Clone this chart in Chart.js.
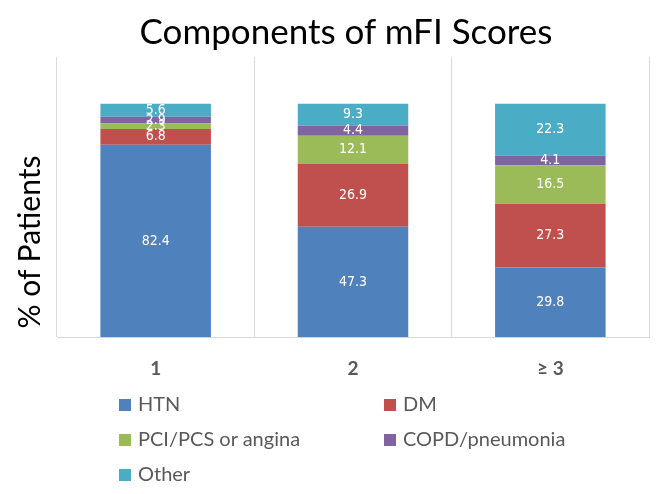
<!DOCTYPE html>
<html>
<head>
<meta charset="utf-8">
<script src="https://cdn.jsdelivr.net/npm/chart.js@4"></script>
<style>
  html, body { margin: 0; padding: 0; background: #fff; }
  #wrap { position: relative; width: 663px; height: 494px; }
  #title { position: absolute; left: 46px; width: 600px; top: 8px; text-align: center;
    font-family: 'Lato', 'Open Sans', sans-serif; font-size: 35px; color: #000; line-height: 44px; }
  #ytitle { position: absolute; left: 28px; top: 242px; width: 300px; height: 36px; line-height: 36px;
    margin-left: -150px; margin-top: -18px; text-align: center; transform: rotate(-90deg);
    font-family: 'Lato', 'Open Sans', sans-serif; font-size: 30px; color: #000; white-space: nowrap; }
  #legend { position: absolute; left: 119px; top: 391px; width: 520px;
    font-family: 'Lato', 'Open Sans', sans-serif; font-size: 20px; color: #595959; }
  .item { position: absolute; white-space: nowrap; }
  .box { display: inline-block; width: 12px; height: 12px; margin-right: 7px; vertical-align: 0px; }
</style>
</head>
<body>
<div id="wrap">
  <canvas id="chart" width="663" height="494"></canvas>
  <div id="title">Components of mFI Scores</div>
  <div id="ytitle">% of Patients</div>
  <div id="legend"></div>
</div>
<script>
// categories and series (% of patients)
const categories = ['1', '2', '\u2265 3'];
const seriesNames = ['HTN', 'DM', 'PCI/PCS or angina', 'COPD/pneumonia', 'Other'];
const htn = [82.4, 47.3, 29.8];
const dm = [6.8, 26.9, 27.3];
const pci = [2.3, 12.1, 16.5];
const copd = [2.9, 4.4, 4.1];
const other = [5.6, 9.3, 22.3];
const colors = ['#4F81BD', '#C0504D', '#9BBB59', '#8064A2', '#4BACC6'];

const values = [htn, dm, pci, copd, other];

// simple value labels in the middle of each segment
const barLabels = {
  id: 'barLabels',
  afterDatasetsDraw(chart) {
    const ctx = chart.ctx;
    ctx.save();
    ctx.fillStyle = '#fff';
    ctx.font = "14px 'Liberation Sans Narrow', 'DejaVu Sans Condensed', sans-serif";
    ctx.textAlign = 'center';
    ctx.textBaseline = 'middle';
    chart.data.datasets.forEach((ds, i) => {
      chart.getDatasetMeta(i).data.forEach((bar, j) => {
        const y = (bar.y + bar.base) / 2;
        ctx.fillText(ds.data[j].toFixed(1), bar.x, y);
      });
    });
    ctx.restore();
  }
};

new Chart(document.getElementById('chart'), {
  type: 'bar',
  data: {
    labels: categories,
    datasets: seriesNames.map((name, i) => ({
      label: name,
      data: values[i],
      backgroundColor: colors[i],
      barPercentage: 0.56,
      categoryPercentage: 1
    }))
  },
  options: {
    responsive: false,
    animation: false,
    layout: { padding: { left: 57, right: 14, top: 57, bottom: 94 } },
    plugins: {
      legend: { display: false },
      tooltip: { enabled: false }
    },
    scales: {
      x: {
        stacked: true,
        offset: true,
        grid: { display: true, offset: true, color: '#d9d9d9', drawTicks: false },
        border: { display: true, color: '#d9d9d9' },
        ticks: {
          color: '#595959',
          font: { family: "'Lato', 'Open Sans', sans-serif", size: 19, weight: 'bold' },
          padding: 20
        }
      },
      y: {
        display: false,
        stacked: true,
        min: 0,
        max: 120
      }
    }
  },
  plugins: [barLabels]
});

// legend in two columns
const legend = document.getElementById('legend');
seriesNames.forEach((name, i) => {
  const el = document.createElement('div');
  el.className = 'item';
  el.style.left = (i % 2 === 0 ? 0 : 265) + 'px';
  el.style.top = (Math.floor(i / 2) * 35) + 'px';
  el.innerHTML = '<span class="box" style="background:' + colors[i] + '"></span>' + name;
  legend.appendChild(el);
});
</script>
</body>
</html>
